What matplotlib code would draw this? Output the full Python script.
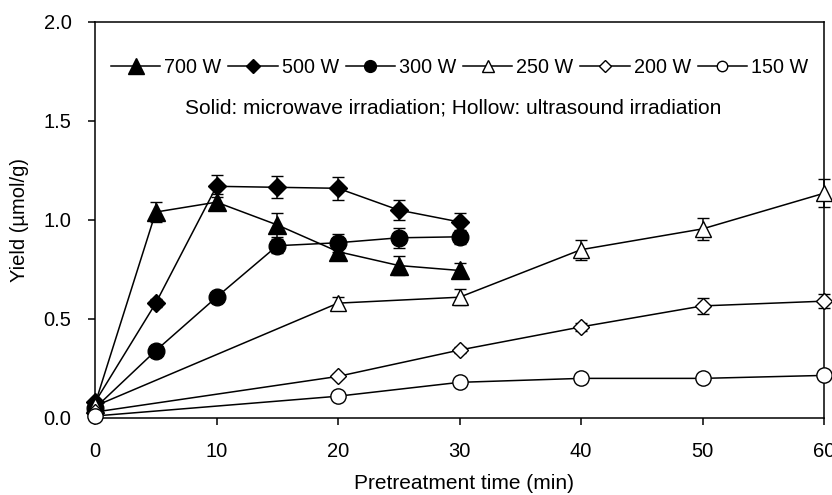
"""Yield vs pretreatment time for microwave and ultrasound irradiation."""

import matplotlib

matplotlib.use("Agg")
import matplotlib.pyplot as plt
from matplotlib.lines import Line2D

plt.rcParams["font.family"] = ["Liberation Sans", "DejaVu Sans"]

# microwave irradiation (solid symbols)
TIME_MW = [0, 5, 10, 15, 20, 25, 30]
YIELD_700 = [0.07, 1.04, 1.09, 0.975, 0.84, 0.77, 0.745]
ERR_700 = [0.01, 0.05, 0.04, 0.06, 0.03, 0.05, 0.04]
YIELD_500 = [0.08, 0.58, 1.17, 1.165, 1.16, 1.05, 0.99]
ERR_500 = [0.01, 0.02, 0.055, 0.055, 0.058, 0.05, 0.045]
YIELD_300 = [0.05, 0.34, 0.61, 0.87, 0.885, 0.91, 0.915]
ERR_300 = [0.01, 0.01, 0.02, 0.035, 0.045, 0.05, 0.035]

# ultrasound irradiation (hollow symbols)
TIME_US = [0, 20, 30, 40, 50, 60]
YIELD_250 = [0.06, 0.58, 0.61, 0.85, 0.955, 1.135]
ERR_250 = [0.01, 0.03, 0.04, 0.05, 0.055, 0.07]
YIELD_200 = [0.03, 0.21, 0.343, 0.46, 0.566, 0.59]
ERR_200 = [0.01, 0.01, 0.015, 0.02, 0.04, 0.035]
YIELD_150 = [0.01, 0.11, 0.18, 0.20, 0.20, 0.215]
ERR_150 = [0.005, 0.01, 0.01, 0.01, 0.01, 0.01]

# label, x, y, err, marker, face, plot marker size, legend marker size
SERIES = [
    ("700 W", TIME_MW, YIELD_700, ERR_700, "^", "black", 13, 11),
    ("500 W", TIME_MW, YIELD_500, ERR_500, "D", "black", 9, 7),
    ("300 W", TIME_MW, YIELD_300, ERR_300, "o", "black", 12, 8.5),
    ("250 W", TIME_US, YIELD_250, ERR_250, "^", "white", 12, 8),
    ("200 W", TIME_US, YIELD_200, ERR_200, "D", "white", 8.5, 6),
    ("150 W", TIME_US, YIELD_150, ERR_150, "o", "white", 11, 7.5),
]


def main() -> None:
    fig = plt.figure(figsize=(8.32, 4.95), dpi=100)
    ax = fig.add_axes([0.1142, 0.1556, 0.8762, 0.8])

    proxies = []
    for label, x, y, err, marker, face, size, leg_size in SERIES:
        cont = ax.errorbar(
            x, y, yerr=err, color="black", linewidth=1.1, marker=marker,
            markersize=size, markerfacecolor=face, markeredgecolor="black",
            markeredgewidth=1.0, capsize=4.5, capthick=1.1, elinewidth=1.1,
            clip_on=False, zorder=3,
        )
        for artist in list(cont.lines[1]) + list(cont.lines[2]):
            artist.set_clip_on(False)
        proxies.append(Line2D([], [], color="black", linewidth=1.1, marker=marker,
                              markersize=leg_size, markerfacecolor=face,
                              markeredgecolor="black", markeredgewidth=1.0, label=label))

    ax.set_xlim(0, 60)
    ax.set_ylim(0, 2.0)
    ax.set_xticks(range(0, 61, 10))
    ax.set_yticks([0.0, 0.5, 1.0, 1.5, 2.0])
    ax.set_yticklabels(["0.0", "0.5", "1.0", "1.5", "2.0"])
    ax.tick_params(direction="out", length=5, width=1.1, labelsize=14.5, top=False, right=False)
    ax.tick_params(axis="x", pad=12.5)
    ax.tick_params(axis="y", pad=12)
    for spine in ax.spines.values():
        spine.set_linewidth(1.1)
    ax.set_xlabel("Pretreatment time (min)", fontsize=15)
    ax.set_ylabel("Yield (\u00b5mol/g)", fontsize=14.5)
    ax.xaxis.set_label_coords(0.506, -0.142)
    ax.yaxis.set_label_coords(-0.0905, 0.5)

    ax.legend(
        handles=proxies, ncol=6, loc="center left", bbox_to_anchor=(0.022, 0.886),
        frameon=False, fontsize=14.2, handlelength=2.5, handletextpad=0.2,
        columnspacing=0.35, borderaxespad=0, borderpad=0,
    )
    ax.text(0.492, 0.783, "Solid: microwave irradiation; Hollow: ultrasound irradiation",
            transform=ax.transAxes, ha="center", va="center", fontsize=15)

    fig.savefig("out.png", dpi=100, facecolor="white")


if __name__ == "__main__":
    main()
